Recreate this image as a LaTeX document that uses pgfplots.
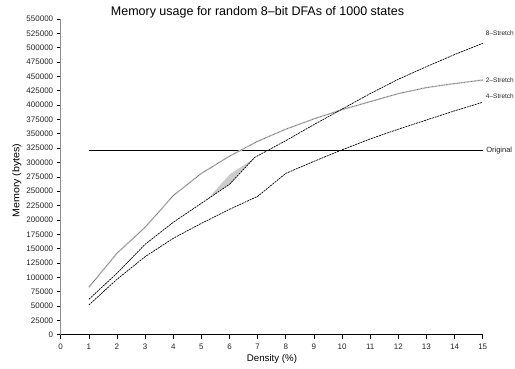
\documentclass[border=0pt]{standalone}
\usepackage{fontspec}
\setmainfont{Liberation Sans}
\usepackage{pgfplots}
\pgfplotsset{compat=1.18}
\begin{document}
\begin{tikzpicture}
\useasboundingbox (-60.7pt,-34.3pt) rectangle (454.3pt,334.7pt);
\clip (-60.7pt,-34.3pt) rectangle (454.3pt,334.7pt);
\begin{axis}[
  at={(0,0)}, anchor=south west,
  scale only axis, width=422pt, height=315.7pt,
  xmin=0, xmax=15, ymin=0, ymax=550000,
  enlargelimits=false, clip=false,
  axis x line*=bottom, axis y line*=left,
  x axis line style={-, black, line width=0.8pt},
  y axis line style={-, black!45, line width=1.4pt},
  xtick={0,1,...,15},
  ytick={0,25000,...,550000},
  tick align=outside, major tick length=4pt,
  tick style={black, line width=0.6pt},
  scaled y ticks=false,
  /pgf/number format/assume math mode=true,
  yticklabel style={/pgf/number format/fixed, /pgf/number format/1000 sep={}},
  tick label style={font=\fontsize{8}{9}\selectfont, text=black!85},
  xticklabel style={yshift=-1.5pt},
]
% shaded band around 8-Stretch
\addplot[fill=black!20, draw=none, forget plot] coordinates {
  (5.25,238000) (6,279000) (6.9,308000) (6,262000) (5.25,238000)} -- cycle;
% Original
\addplot[black, line width=0.8pt] coordinates {(1,321000) (15,321000)};
% 2-Stretch halo and line
\addplot[black!15, line width=1.6pt] coordinates {
 (1,82600) (2,141800) (3,187100) (4,242200) (5,281000) (6,311000) (7,337000)
 (8,358000) (9,376000) (10,392000) (11,406000) (12,420000) (13,430500) (14,437500) (15,443700)};
\addplot[black!65, line width=0.6pt, dash pattern=on 0.7pt off 0.7pt] coordinates {
 (1,82600) (2,141800) (3,187100) (4,242200) (5,281000) (6,311000) (7,337000)
 (8,358000) (9,376000) (10,392000) (11,406000) (12,420000) (13,430500) (14,437500) (15,443700)};
% 8-Stretch
\addplot[black, line width=0.7pt, dash pattern=on 2pt off 0.8pt] coordinates {
 (1,61700) (2,107000) (3,157500) (4,195800) (5,228900) (6,262000) (6.9,309000)
 (8,338000) (9,366000) (10,393000) (11,420000) (12,445000) (13,467000) (14,488000) (15,507600)};
% 4-Stretch
\addplot[black, line width=0.7pt, dash pattern=on 2pt off 0.8pt] coordinates {
 (1,51700) (2,96500) (3,135900) (4,167900) (5,194000) (6,218400) (7,241000)
 (8,281000) (9,302000) (10,322000) (11,341000) (12,358000) (13,374000) (14,390000) (15,404900)};
\node[anchor=base west, inner sep=0, font=\fontsize{6.5}{7}\selectfont, text=black!85] at (axis cs:15.11,521400) {8–Stretch};
\node[anchor=base west, inner sep=0, font=\fontsize{6.5}{7}\selectfont, text=black!85] at (axis cs:15.11,440200) {2–Stretch};
\node[anchor=base west, inner sep=0, font=\fontsize{6.5}{7}\selectfont, text=black!85] at (axis cs:15.11,411100) {4–Stretch};
\node[anchor=base west, inner sep=0, font=\fontsize{7.5}{8}\selectfont, text=black!85] at (axis cs:15.12,317100) {Original};
\end{axis}
\node[anchor=base, inner sep=0, font=\fontsize{12.5}{14}\selectfont] at (196.8pt,318.9pt) {Memory usage for random 8–bit DFAs of 1000 states};
\node[anchor=base, inner sep=0, font=\fontsize{9.7}{11}\selectfont] at (211.3pt,-27.3pt) {Density (\%)};
\node[anchor=base, inner sep=0, rotate=90, font=\fontsize{9.7}{11}\selectfont] at (-41.2pt,154.2pt) {\scalebox{1.1}[1]{Memory (bytes)}};
\end{tikzpicture}
\end{document}
